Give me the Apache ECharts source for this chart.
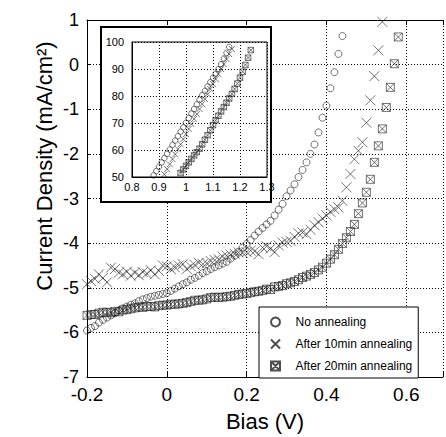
<!DOCTYPE html>
<html><head><meta charset="utf-8">
<script src="https://cdn.jsdelivr.net/npm/echarts@6/dist/echarts.min.js"></script>
<style>html,body{margin:0;padding:0;background:#fff}#c{width:446px;height:437px}</style>
</head><body><div id="c"></div>
<script>
// ---- tick labels ----
const xTicksMain = [-0.2, 0, 0.2, 0.4, 0.6];
const yTicksMain = [-7, -6, -5, -4, -3, -2, -1, 0, 1];
const xTicksInset = [0.8, 0.9, 1, 1.1, 1.2, 1.3];
const yTicksInset = [50, 60, 70, 80, 90, 100];
const seriesNames = ['No annealing', 'After 10min annealing', 'After 20min annealing'];

// ---- main plot data: [bias V, current density mA/cm2] ----
const noAnnealing = [[-0.20,-5.96],[-0.19,-5.90],[-0.18,-5.86],[-0.17,-5.78],[-0.16,-5.72],[-0.15,-5.67],[-0.14,-5.62],[-0.13,-5.57],[-0.12,-5.51],[-0.11,-5.46],[-0.10,-5.42],[-0.09,-5.38],[-0.08,-5.35],[-0.07,-5.30],[-0.06,-5.26],[-0.05,-5.23],[-0.04,-5.20],[-0.03,-5.18],[-0.02,-5.16],[-0.01,-5.14],[0.00,-5.12],[0.01,-5.07],[0.02,-5.02],[0.03,-4.97],[0.04,-4.92],[0.05,-4.88],[0.06,-4.82],[0.07,-4.78],[0.08,-4.73],[0.09,-4.67],[0.10,-4.63],[0.11,-4.58],[0.12,-4.54],[0.13,-4.50],[0.14,-4.46],[0.15,-4.42],[0.16,-4.35],[0.17,-4.28],[0.18,-4.19],[0.19,-4.10],[0.20,-4.02],[0.21,-3.93],[0.22,-3.83],[0.23,-3.74],[0.24,-3.66],[0.25,-3.58],[0.26,-3.50],[0.27,-3.38],[0.28,-3.25],[0.29,-3.12],[0.30,-2.95],[0.31,-2.82],[0.32,-2.68],[0.33,-2.52],[0.34,-2.36],[0.35,-2.19],[0.36,-2.00],[0.37,-1.79],[0.38,-1.52],[0.39,-1.19],[0.40,-0.92],[0.41,-0.53],[0.42,-0.17],[0.43,0.24],[0.44,0.64]];
const after10min = [[-0.20,-4.92],[-0.19,-4.85],[-0.18,-4.80],[-0.17,-4.70],[-0.16,-4.78],[-0.15,-4.88],[-0.14,-4.55],[-0.13,-4.58],[-0.12,-4.66],[-0.11,-4.70],[-0.10,-4.64],[-0.09,-4.73],[-0.08,-4.66],[-0.07,-4.72],[-0.06,-4.65],[-0.05,-4.68],[-0.04,-4.61],[-0.03,-4.70],[-0.02,-4.62],[-0.01,-4.50],[0.00,-4.52],[0.01,-4.58],[0.02,-4.54],[0.03,-4.50],[0.04,-4.47],[0.05,-4.58],[0.06,-4.52],[0.07,-4.49],[0.08,-4.44],[0.09,-4.47],[0.10,-4.45],[0.11,-4.40],[0.12,-4.38],[0.13,-4.36],[0.14,-4.30],[0.15,-4.28],[0.16,-4.26],[0.17,-4.24],[0.18,-4.21],[0.19,-4.22],[0.20,-4.20],[0.21,-4.17],[0.22,-4.18],[0.23,-4.25],[0.24,-4.10],[0.25,-4.07],[0.26,-4.12],[0.27,-4.20],[0.28,-4.05],[0.29,-3.99],[0.30,-3.97],[0.31,-3.95],[0.32,-3.86],[0.33,-3.78],[0.34,-3.76],[0.35,-3.80],[0.36,-3.70],[0.37,-3.60],[0.38,-3.53],[0.39,-3.45],[0.40,-3.38],[0.41,-3.30],[0.42,-3.24],[0.43,-3.20],[0.44,-3.05],[0.45,-2.75],[0.46,-2.45],[0.47,-2.12],[0.48,-1.93],[0.49,-1.74],[0.50,-1.30],[0.51,-0.80],[0.52,-0.26],[0.53,0.32],[0.54,0.96]];
const after20min = [[-0.20,-5.62],[-0.19,-5.60],[-0.18,-5.60],[-0.17,-5.57],[-0.16,-5.55],[-0.15,-5.55],[-0.14,-5.56],[-0.13,-5.53],[-0.12,-5.54],[-0.11,-5.50],[-0.10,-5.49],[-0.09,-5.47],[-0.08,-5.45],[-0.07,-5.43],[-0.06,-5.44],[-0.05,-5.42],[-0.04,-5.42],[-0.03,-5.43],[-0.02,-5.40],[-0.01,-5.39],[0.00,-5.39],[0.01,-5.37],[0.02,-5.37],[0.03,-5.36],[0.04,-5.35],[0.05,-5.33],[0.06,-5.31],[0.07,-5.28],[0.08,-5.28],[0.09,-5.27],[0.10,-5.25],[0.11,-5.22],[0.12,-5.21],[0.13,-5.22],[0.14,-5.21],[0.15,-5.20],[0.16,-5.19],[0.17,-5.17],[0.18,-5.15],[0.19,-5.14],[0.20,-5.13],[0.21,-5.11],[0.22,-5.09],[0.23,-5.08],[0.24,-5.06],[0.25,-5.03],[0.26,-5.04],[0.27,-4.98],[0.28,-4.97],[0.29,-4.95],[0.30,-4.91],[0.31,-4.89],[0.32,-4.86],[0.33,-4.82],[0.34,-4.77],[0.35,-4.74],[0.36,-4.70],[0.37,-4.66],[0.38,-4.60],[0.39,-4.54],[0.40,-4.45],[0.41,-4.36],[0.42,-4.26],[0.43,-4.14],[0.44,-4.01],[0.45,-3.88],[0.46,-3.74],[0.47,-3.58],[0.48,-3.34],[0.49,-3.10],[0.50,-2.86],[0.51,-2.57],[0.52,-2.19],[0.53,-1.82],[0.54,-1.44],[0.55,-0.96],[0.56,-0.51],[0.57,0.02],[0.58,0.62]];

// ---- inset data ----
const insetNoAnnealing = [[0.88,50.6],[0.89,52.2],[0.90,53.8],[0.91,55.4],[0.92,57.0],[0.93,58.6],[0.94,60.2],[0.95,61.9],[0.96,63.5],[0.97,65.1],[0.98,66.8],[0.99,68.4],[1.00,70.1],[1.01,71.8],[1.02,73.5],[1.03,75.2],[1.04,76.9],[1.05,78.6],[1.06,80.3],[1.07,81.9],[1.08,83.5],[1.09,85.1],[1.10,86.7],[1.11,88.3],[1.12,89.9],[1.13,91.8],[1.14,93.9],[1.15,96.0],[1.16,98.2]];
const insetAfter10min = [[0.92,51.0],[0.93,52.9],[0.94,54.7],[0.95,56.6],[0.96,58.4],[0.97,60.3],[0.98,62.1],[0.99,64.0],[1.00,65.9],[1.01,67.8],[1.02,69.6],[1.03,71.5],[1.04,73.3],[1.05,75.2],[1.06,77.0],[1.07,78.9],[1.08,80.7],[1.09,82.6],[1.10,84.4],[1.11,86.3],[1.12,88.1],[1.13,90.0],[1.14,91.8],[1.15,93.7],[1.16,95.5],[1.17,97.4]];
const insetAfter20min = [[0.98,51.5],[0.99,52.8],[1.00,54.1],[1.01,55.4],[1.02,56.7],[1.03,58.0],[1.04,59.2],[1.05,60.5],[1.06,62.1],[1.07,63.8],[1.08,65.5],[1.09,67.3],[1.10,69.2],[1.11,71.0],[1.12,72.7],[1.13,74.3],[1.14,75.9],[1.15,77.5],[1.16,79.1],[1.17,80.8],[1.18,82.6],[1.19,84.6],[1.20,86.8],[1.21,89.0],[1.22,91.5],[1.23,94.2],[1.24,97.0]];

const FONT = '"Liberation Sans", Arial, Helvetica, sans-serif';
const SYM_X = 'path://M0,0L10,10M10,0L0,10';
const SYM_BOXX = 'path://M0,0H10V10H0ZM0,0L10,10M10,0L0,10';
const dotted = { type: [1, 2], color: '#000', width: 1 };
const fmt = v => String(Math.round(v * 10) / 10);
const inList = (list, v) => list.some(t => Math.abs(t - v) < 1e-6);
const markStyle = { color: 'rgba(0,0,0,0)', borderColor: '#222', borderWidth: 0.8 };

const chart = echarts.init(document.getElementById('c'), null, { renderer: 'svg' });
chart.setOption({
  animation: false,
  grid: [
    { left: 87, top: 20, width: 358, height: 361, show: false },
    { left: 132, top: 42, width: 135, height: 135, show: true, borderColor: '#000', borderWidth: 1,
      backgroundColor: '#fff', z: 20 }
  ],
  xAxis: [
    { gridIndex: 0, type: 'value', min: -0.2, max: 0.692, interval: 0.2, position: 'bottom',
      name: 'Bias (V)', nameLocation: 'middle', nameGap: 33,
      nameTextStyle: { fontSize: 22, color: '#000', fontFamily: FONT },
      axisLine: { show: true, onZero: false, lineStyle: { color: '#000', width: 1 } },
      axisTick: { show: true, inside: true, length: 5, lineStyle: { color: '#000' } },
      axisLabel: { fontSize: 19, color: '#000', margin: 8, fontFamily: FONT,
        formatter: v => inList(xTicksMain, v) ? fmt(v) : '' },
      splitLine: { show: true, lineStyle: dotted } },
    { gridIndex: 0, type: 'value', min: -0.2, max: 0.692, interval: 0.2, position: 'top',
      axisLine: { show: true, onZero: false, lineStyle: { color: '#000', width: 1 } },
      axisTick: { show: true, inside: true, length: 5, lineStyle: { color: '#000' } },
      axisLabel: { show: false }, splitLine: { show: false } },
    { gridIndex: 1, type: 'value', min: 0.8, max: 1.3, interval: 0.1, z: 21,
      axisLine: { show: true, onZero: false, lineStyle: { color: '#000' } },
      axisTick: { show: false },
      axisLabel: { fontSize: 11, color: '#000', margin: 4, fontFamily: FONT,
        formatter: v => inList(xTicksInset, v) ? fmt(v) : '' },
      splitLine: { show: true, lineStyle: dotted } }
  ],
  yAxis: [
    { gridIndex: 0, type: 'value', min: -7, max: 1, interval: 1,
      axisLine: { show: true, onZero: false, lineStyle: { color: '#000', width: 1 } },
      axisTick: { show: true, inside: true, length: 4, lineStyle: { color: '#000' } },
      axisLabel: { fontSize: 18, color: '#000', fontFamily: FONT,
        formatter: v => inList(yTicksMain, v) ? String(v) : '' },
      splitLine: { show: true, lineStyle: dotted } },
    { gridIndex: 1, type: 'value', min: 50, max: 100, interval: 10, z: 21,
      axisLine: { show: true, onZero: false, lineStyle: { color: '#000' } },
      axisTick: { show: false },
      axisLabel: { fontSize: 11, color: '#000', fontFamily: FONT,
        formatter: v => inList(yTicksInset, v) ? String(v) : '' },
      splitLine: { show: true, lineStyle: dotted } }
  ],
  legend: {
    data: seriesNames, orient: 'vertical', left: 259, top: 307,
    backgroundColor: '#fff', borderColor: '#000', borderWidth: 1,
    padding: [9, 6, 6, 11], itemWidth: 30, itemHeight: 9, itemGap: 10,
    selectedMode: false, z: 30,
    textStyle: { fontSize: 12, color: '#000', fontFamily: FONT, lineHeight: 12 }
  },
  graphic: [
    { type: 'rect', z: 10, shape: { x: 101, y: 27, width: 170, height: 175 },
      style: { fill: '#fff', stroke: '#000', lineWidth: 2 } },
    { type: 'text', z: 10, x: 44, y: 166, rotation: Math.PI / 2,
      style: { text: 'Current Density (mA/cm\u00B2)', align: 'center', verticalAlign: 'middle', fill: '#000',
        fontSize: 22, fontFamily: FONT } }
  ],
  series: [
    { name: seriesNames[0], type: 'scatter', xAxisIndex: 0, yAxisIndex: 0, data: noAnnealing,
      symbol: 'circle', symbolSize: 7, itemStyle: markStyle, silent: true, z: 2 },
    { name: seriesNames[1], type: 'scatter', xAxisIndex: 0, yAxisIndex: 0, data: after10min,
      symbol: SYM_X, symbolSize: 10, itemStyle: markStyle, silent: true, z: 2 },
    { name: seriesNames[2], type: 'scatter', xAxisIndex: 0, yAxisIndex: 0, data: after20min,
      symbol: SYM_BOXX, symbolSize: 8, itemStyle: markStyle, silent: true, z: 2 },
    { name: seriesNames[0], type: 'scatter', xAxisIndex: 2, yAxisIndex: 1, data: insetNoAnnealing,
      symbol: 'circle', symbolSize: 5.5, itemStyle: markStyle, silent: true, z: 22 },
    { name: seriesNames[1], type: 'scatter', xAxisIndex: 2, yAxisIndex: 1, data: insetAfter10min,
      symbol: SYM_X, symbolSize: 6, itemStyle: markStyle, silent: true, z: 22 },
    { name: seriesNames[2], type: 'scatter', xAxisIndex: 2, yAxisIndex: 1, data: insetAfter20min,
      symbol: SYM_BOXX, symbolSize: 5.5, itemStyle: markStyle, silent: true, z: 22 }
  ]
});
</script></body></html>
